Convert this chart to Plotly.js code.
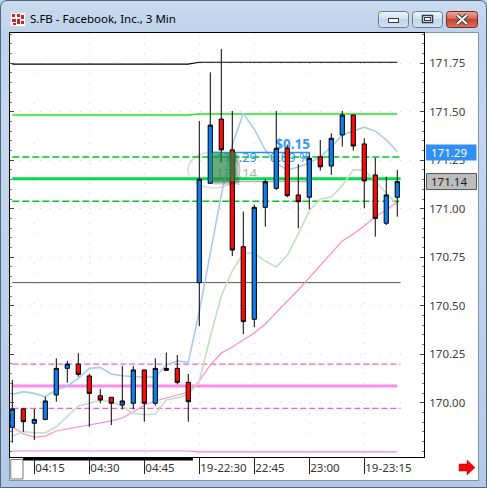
<!DOCTYPE html>
<html>
<head>
<meta charset="utf-8">
<script src="https://cdn.plot.ly/plotly-3.0.1.min.js"></script>
<style>
  html, body { margin: 0; padding: 0; width: 487px; height: 488px; overflow: hidden; background: #b9d0ea; }
  #frame { position: absolute; left: 0; top: 0; width: 485px; height: 486px; border: 1px solid #52667f;
           border-radius: 7px 7px 0 0;
           background: linear-gradient(to bottom, #cadbef 0px, #bdd2eb 33px, #c4d7ee 120px, #b3cae6 100%); }
  #panel { position: absolute; left: 9px; top: 32px; width: 468px; height: 447px; background: #fff;
           border: 1px solid #7f93ad; }
  #chart { position: absolute; left: 0; top: 0; width: 487px; height: 488px; }
  #chrome { position: absolute; left: 0; top: 0; pointer-events: none; }
</style>
</head>
<body>
<div id="frame"></div>
<div id="panel"></div>
<div id="chart"></div>
<svg id="chrome" width="487" height="488">
  <defs>
    <linearGradient id="btn" x1="0" y1="0" x2="0" y2="1">
      <stop offset="0" stop-color="#eef3fa"/><stop offset="0.45" stop-color="#d6e2f0"/>
      <stop offset="0.5" stop-color="#c3d4e8"/><stop offset="1" stop-color="#d5e3f2"/>
    </linearGradient>
    <linearGradient id="cls" x1="0" y1="0" x2="0" y2="1">
      <stop offset="0" stop-color="#ebab9c"/><stop offset="0.45" stop-color="#d46a57"/>
      <stop offset="0.5" stop-color="#c4422e"/><stop offset="1" stop-color="#dc7356"/>
    </linearGradient>
  </defs>
  <!-- application icon -->
  <rect x="10.5" y="12.5" width="15" height="14" fill="#fff" stroke="#d9d9d9"/>
  <rect x="12" y="14" width="3" height="3" fill="#d3202a"/><rect x="17" y="14" width="3" height="3" fill="#d3202a"/>
  <rect x="21" y="15" width="3" height="4" fill="#d3202a"/><rect x="12" y="19" width="4" height="3" fill="#d3202a"/>
  <rect x="17" y="19" width="3" height="5" fill="#d3202a"/><rect x="21" y="21" width="3" height="3" fill="#d3202a"/>
  <rect x="13" y="23" width="3" height="2" fill="#d3202a"/>
  <!-- minimize -->
  <rect x="378.5" y="11.5" width="30" height="16" rx="3" fill="url(#btn)" stroke="#6b7c94"/>
  <rect x="388.5" y="18.5" width="10" height="4" fill="#fff" stroke="#2f3a4a"/>
  <!-- maximize -->
  <rect x="412.5" y="11.5" width="30" height="16" rx="3" fill="url(#btn)" stroke="#6b7c94"/>
  <rect x="422.5" y="15.5" width="10" height="7" fill="#fff" stroke="#2f3a4a" stroke-width="1.5"/>
  <rect x="424.5" y="17.5" width="6" height="3" fill="none" stroke="#2f3a4a"/>
  <!-- close -->
  <rect x="446.5" y="11.5" width="31" height="16" rx="3" fill="url(#cls)" stroke="#7a2a20"/>
  <path d="M457 15 L467 24 M467 15 L457 24" stroke="#3a3a3a" stroke-width="4"/>
  <path d="M457 15 L467 24 M467 15 L457 24" stroke="#fff" stroke-width="2"/>
  <!-- scroll arrow -->
  <path d="M459 464 L467 464 L467 460 L475 467.5 L467 475 L467 471 L459 471 Z" fill="#ee0a0a" stroke="#c00000" stroke-width="0.5"/>
</svg>
<script>
// S.FB 3-minute bars: late pre-market session and evening session
const times = ['04:09','04:12','04:15','04:18','04:21','04:24','04:27','04:30','04:33','04:36','04:39','04:42',
               '04:45','04:48','04:51','04:54','04:57','22:30','22:33','22:36','22:39','22:42','22:45','22:48',
               '22:51','22:54','22:57','23:00','23:03','23:06','23:09','23:12','23:15','23:18','23:21','23:24'];
const open  = [169.873,169.968,169.894,169.914,170.040,170.177,170.199,170.138,170.036,170.028,169.988,169.997,
               170.169,169.997,170.177,170.177,170.105,170.619,171.131,171.462,171.303,170.804,170.430,171.007,
               171.105,171.311,171.071,171.059,171.268,171.220,171.380,171.483,171.334,171.174,170.925,171.059];
const high  = [170.117,169.970,169.968,170.031,170.229,170.216,170.255,170.148,170.071,170.028,170.189,170.189,
               170.169,170.229,170.258,170.246,170.148,171.452,171.703,171.823,171.504,170.985,171.020,171.152,
               171.504,171.330,171.230,171.285,171.354,171.389,171.504,171.483,171.363,171.263,171.165,171.200];
const low   = [169.794,169.850,169.808,169.910,170.005,170.103,170.134,169.876,169.997,169.885,169.966,169.966,
               169.902,169.985,170.167,170.095,169.902,170.395,171.131,171.237,170.756,170.354,170.389,170.907,
               171.096,171.059,170.899,170.997,171.196,171.174,171.320,171.299,171.002,170.856,170.916,170.959];
const close = [169.968,169.902,169.914,170.009,170.177,170.199,170.146,170.048,170.014,169.997,170.009,170.169,
               169.997,170.177,170.167,170.105,170.005,171.152,171.431,171.303,170.787,170.418,171.007,171.139,
               171.311,171.067,171.036,171.260,171.216,171.363,171.483,171.323,171.143,170.950,171.071,171.140];

// moving averages (fast of highs, fast of lows, slow of closes)
const maHigh = [170.043,170.057,170.048,170.031,170.065,170.086,170.126,170.177,170.182,170.148,170.139,170.134,
                170.131,170.134,170.194,170.215,170.208,170.470,170.760,171.070,171.330,171.490,171.410,171.302,
                171.236,171.199,171.215,171.236,171.267,171.318,171.380,171.400,171.420,171.400,171.355,171.295];
const maLow  = [169.827,169.851,169.845,169.845,169.876,169.928,169.983,169.997,170.014,170.005,169.983,169.945,
                169.938,169.942,170.014,170.026,170.043,170.110,170.340,170.550,170.680,170.770,170.770,170.730,
                170.700,170.760,170.870,170.990,171.050,171.060,171.120,171.200,171.200,171.140,171.080,171.020];
const maSlow = [169.876,169.839,169.823,169.828,169.854,169.864,169.875,169.885,169.893,169.906,169.921,169.952,
                169.988,170.009,170.024,170.040,170.055,170.112,170.194,170.256,170.287,170.323,170.359,170.406,
                170.467,170.524,170.581,170.643,170.705,170.772,170.834,170.870,170.911,170.958,170.993,171.035];

// price levels: [pre-market value, evening value] for stepped ones, single values for flat ones
const levelBlack   = [171.745, 171.755];
const levelGreen   = [171.483, 171.488];
const levelPinkLow = [169.751, 169.747];
const greenDashHi  = 171.267;
const greenThick   = 171.154;
const greenDashLo  = 171.038;
const grayLevel    = 170.619;
const pinkDashHi   = 170.199;
const pinkThick    = 170.086;
const pinkDashLo   = 169.971;

// measuring cursor between two prices
const cursorPrices = [171.29, 171.14];

const tickLabels = ['04:15','04:30','04:45','19-22:30','22:45','23:00','19-23:15'];
const priceTicks = [170.00, 170.25, 170.50, 170.75, 171.00, 171.25, 171.50, 171.75];

const idx = times.map((_, i) => i);
const last = idx.length - 1;
const sessionStart = times.indexOf('22:30');
const tickIdx = tickLabels.map(t => times.indexOf(t.replace('19-', '')));

const FONT = 'Noto Sans, Open Sans, sans-serif';
const traces = [];

function flat(v, color, width, dash, ext) {
  traces.push({x: [0, last + ext], y: [v, v], type: 'scatter', mode: 'lines', hoverinfo: 'skip',
               line: {color: color, width: width, dash: dash}});
}
function stepped(v, color, width) {
  traces.push({x: [0, sessionStart - 1, sessionStart, last], y: [v[0], v[0], v[1], v[1]], type: 'scatter',
               mode: 'lines', hoverinfo: 'skip', line: {color: color, width: width}});
}

stepped(levelPinkLow, '#f07ef0', 1.2);
flat(pinkDashLo, '#ff5cbe', 1.4, '6px,3px', 0.3);
flat(pinkThick, '#ff8cec', 3, 'solid', 0);
flat(pinkDashHi, '#ff5cbe', 1.4, '6px,3px', 0.3);
flat(grayLevel, '#555555', 1, 'solid', 0.3);
flat(greenDashLo, '#00c81e', 1.5, '7px,3px', 0.3);
flat(greenThick, '#00dc4c', 3, 'solid', 0.3);
flat(greenDashHi, '#00c81e', 1.5, '7px,3px', 0.3);
stepped(levelGreen, '#1ee81e', 1.5);
stepped(levelBlack, '#000000', 1.2);

[[maSlow, '#ff8cc8', 1.2], [maLow, '#c4dec4', 1.6], [maHigh, '#a9caf2', 1.6]].forEach(([s, c, w]) => {
  traces.push({x: idx, y: s, type: 'scatter', mode: 'lines', hoverinfo: 'skip', line: {color: c, width: w}});
});

// cursor lines and readouts
const cx0 = sessionStart + 1, cxText = 22.25, cxEnd = 27.06;
traces.push({x: [cx0, cxEnd], y: [cursorPrices[0], cursorPrices[0]], type: 'scatter', mode: 'lines',
             hoverinfo: 'skip', line: {color: '#2a8ff2', width: 1.5}});
traces.push({x: [cx0, cxEnd - 0.2], y: [cursorPrices[1], cursorPrices[1]], type: 'scatter', mode: 'lines',
             hoverinfo: 'skip', line: {color: '#b4b4b4', width: 1.5}});
const diff = cursorPrices[0] - cursorPrices[1];
const pct = diff / cursorPrices[1] * 100;
traces.push({x: [cxText, cxEnd], y: [cursorPrices[0], cursorPrices[0]], type: 'scatter', mode: 'text',
             hoverinfo: 'skip', text: [cursorPrices[0].toFixed(2), pct.toFixed(2) + ' %'],
             textposition: 'bottom left', textfont: {family: FONT, size: 13, color: '#2a8ff2'}});
traces.push({x: [cxEnd], y: [cursorPrices[0]], type: 'scatter', mode: 'text', hoverinfo: 'skip',
             text: ['$' + diff.toFixed(2)], textposition: 'top left',
             textfont: {family: FONT, size: 13.5, color: '#3a96f2', weight: 'bold'}});
traces.push({x: [cxText], y: [cursorPrices[1]], type: 'scatter', mode: 'text', hoverinfo: 'skip',
             text: [cursorPrices[1].toFixed(2)], textposition: 'top left',
             textfont: {family: FONT, size: 13, color: '#b0b0b0'}});

// candles on an overlaid axis so they sit above lines and readouts
traces.push({
  type: 'candlestick', x: idx, open: open, high: high, low: low, close: close, xaxis: 'x2', yaxis: 'y',
  hoverinfo: 'skip', whiskerwidth: 0,
  increasing: {fillcolor: '#0c7ff2', line: {color: '#000', width: 1}},
  decreasing: {fillcolor: '#ff0a0a', line: {color: '#000', width: 1}}
});

const xr = [-0.21, 37.43];
const yr = [169.7201, 171.9057];

const shapes = [
  // selection ellipse
  {type: 'circle', xref: 'x', yref: 'y', x0: 15.97, x1: 20.7, y0: 171.107, y1: 171.292, layer: 'below',
   line: {color: '#dcdcdc', width: 1.5}},
  // measuring box with its drop shadow
  {type: 'rect', xref: 'x', yref: 'y', x0: cx0 + 0.3, x1: cx0 + 2.7, y0: cursorPrices[1] - 0.018, y1: cursorPrices[0] - 0.012,
   fillcolor: 'rgba(0,0,0,0.12)', line: {width: 0}, layer: 'above'},
  {type: 'rect', xref: 'x', yref: 'y', x0: cx0 + 0.2, x1: cx0 + 2.55, y0: cursorPrices[1] - 0.012, y1: cursorPrices[0] - 0.008,
   fillcolor: 'rgba(0,0,0,0.15)', line: {width: 0}, layer: 'above'},
  {type: 'rect', xref: 'x', yref: 'y', x0: cx0, x1: cx0 + 2.36, y0: cursorPrices[1], y1: cursorPrices[0],
   fillcolor: 'rgba(40,160,80,0.6)', line: {width: 0}, layer: 'above'},
  // price flags on the axis
  {type: 'rect', xref: 'paper', yref: 'y', xsizemode: 'pixel', ysizemode: 'pixel', xanchor: 1, yanchor: cursorPrices[0],
   x0: 2, x1: 52.5, y0: -8, y1: 8, fillcolor: '#2f8ff5', line: {width: 0}, layer: 'above'},
  {type: 'rect', xref: 'paper', yref: 'y', xsizemode: 'pixel', ysizemode: 'pixel', xanchor: 1, yanchor: close[last],
   x0: 2.5, x1: 52.5, y0: -8, y1: 8, fillcolor: '#bdbdbd', line: {color: '#555', width: 1}, layer: 'above'},
  // time scroller under the axis
  {type: 'rect', xref: 'paper', yref: 'paper', ysizemode: 'pixel', yanchor: 0, x0: 0.0314, x1: 0.442, y0: -3.5, y1: 0,
   fillcolor: '#000', line: {width: 0}, layer: 'above'},
  {type: 'rect', xref: 'paper', yref: 'paper', ysizemode: 'pixel', yanchor: 0, x0: 0.002, x1: 0.0314, y0: -22, y1: -2.5,
   fillcolor: '#fff', line: {color: '#7a7a7a', width: 1}, layer: 'above'}
];

const annotations = [
  {xref: 'paper', yref: 'y', x: 1, y: cursorPrices[0], xanchor: 'left', yanchor: 'middle', xshift: 5, showarrow: false,
   text: cursorPrices[0].toFixed(2), font: {family: FONT, size: 11.5, color: '#fff'}},
  {xref: 'paper', yref: 'y', x: 1, y: close[last], xanchor: 'left', yanchor: 'middle', xshift: 5, showarrow: false,
   text: close[last].toFixed(2), font: {family: FONT, size: 11.5, color: '#1a1a1a'}}
];

const layout = {
  width: 487, height: 488,
  margin: {l: 10, r: 63, t: 33, b: 31, pad: 0},
  paper_bgcolor: 'rgba(0,0,0,0)', plot_bgcolor: '#ffffff',
  showlegend: false, dragmode: false, boxgap: 0.45,
  title: {text: 'S.FB - Facebook, Inc., 3 Min', xref: 'container', yref: 'container', x: 30 / 487, xanchor: 'left',
          y: 1 - 19 / 488, yanchor: 'middle', font: {family: FONT, size: 11.5, color: '#000'}},
  xaxis: {range: xr, tickmode: 'array', tickvals: tickIdx, ticktext: tickLabels, ticks: 'outside', ticklen: 16,
          tickcolor: '#222', tickwidth: 1, ticklabelposition: 'outside right',
          tickfont: {family: FONT, size: 11.5, color: '#333'}, showline: true, linecolor: '#000', linewidth: 1,
          mirror: true, zeroline: false, showgrid: true, gridcolor: '#d2d2d2', griddash: '1px,9px',
          rangeslider: {visible: false}, fixedrange: true},
  xaxis2: {range: xr, overlaying: 'x', visible: false, rangeslider: {visible: false}, fixedrange: true},
  yaxis: {range: yr, side: 'right', tickmode: 'array', tickvals: priceTicks, ticktext: priceTicks.map(v => v.toFixed(2)),
          ticks: 'inside', ticklen: 4, tickcolor: '#444', showline: true, linecolor: '#000', linewidth: 1,
          mirror: 'ticks', zeroline: false, showgrid: true, gridcolor: '#d2d2d2', griddash: '1px,9px',
          minor: {tickmode: 'linear', tick0: 170, dtick: 0.05, ticks: 'inside', ticklen: 2, tickcolor: '#777', showgrid: false},
          tickfont: {family: FONT, size: 11.5, color: '#404040'}, ticklabelstandoff: 2, fixedrange: true},
  shapes: shapes,
  annotations: annotations
};

Plotly.newPlot('chart', traces, layout, {staticPlot: true, displayModeBar: false});
</script>
</body>
</html>
